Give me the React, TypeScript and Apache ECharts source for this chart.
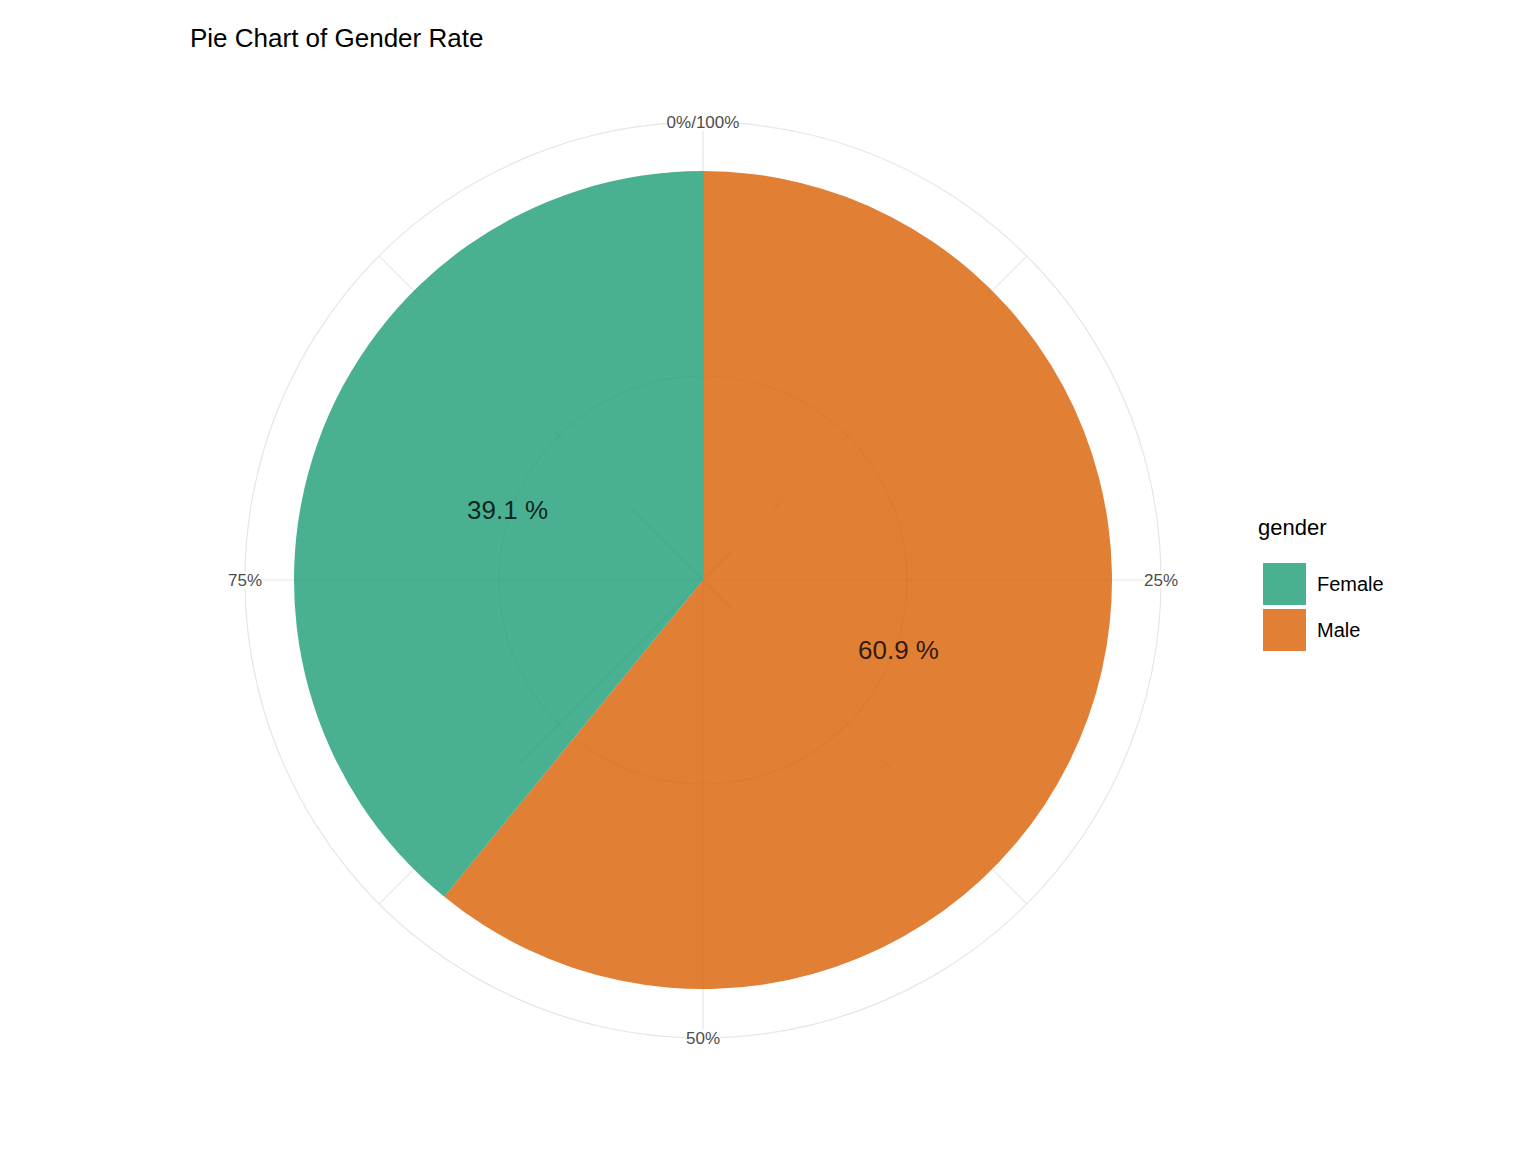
import { useEffect, useRef } from "react";
import * as echarts from "echarts";

const genders = ["Male", "Female"];
const rates = [60.9, 39.1];
const colors = ["#d95f02", "#1b9e77"];
const angleTicks = ["0%/100%", "25%", "50%", "75%"];

const CX = 695;
const CY = 572;
const PIE_R = 409;
const GRID_R = [204, 458];

export default function App() {
  const chartRef = useRef<HTMLDivElement>(null);

  useEffect(() => {
    if (!chartRef.current) return;
    const chart = echarts.init(chartRef.current, null, { renderer: "svg" });

    const grid: any[] = [];
    GRID_R.forEach(r =>
      grid.push({
        type: "circle",
        shape: { cx: CX, cy: CY, r },
        style: { fill: "none", stroke: "#e6e6e6", lineWidth: 1.2 },
        z: 0
      })
    );
    for (let i = 0; i < 8; i++) {
      const a = (i * Math.PI) / 4;
      grid.push({
        type: "line",
        shape: { x1: CX, y1: CY, x2: CX + GRID_R[1] * Math.sin(a), y2: CY - GRID_R[1] * Math.cos(a) },
        style: { stroke: "#e6e6e6", lineWidth: 1.2 },
        z: 0
      });
    }
    angleTicks.forEach((t, i) => {
      const a = (i * Math.PI) / 2;
      grid.push({
        type: "text",
        x: CX + GRID_R[1] * Math.sin(a),
        y: CY - GRID_R[1] * Math.cos(a),
        style: {
          text: t,
          fill: "#4d4d4d",
          font: '17px "Liberation Sans", Arial, sans-serif',
          align: "center",
          verticalAlign: "middle",
          backgroundColor: "#fff"
        },
        z: 1
      });
    });
    grid.push({
      type: "text",
      left: 1250,
      top: 508,
      style: { text: "gender", fill: "#000", font: '22px "Liberation Sans", Arial, sans-serif' }
    });

    chart.setOption({
      animation: false,
      title: {
        text: "Pie Chart of Gender Rate",
        left: 177,
        top: 12,
        textStyle: { fontFamily: "Liberation Sans", fontSize: 26, fontWeight: "normal", color: "#000" }
      },
      legend: {
        orient: "vertical",
        left: 1250,
        top: 550,
        data: ["Female", "Male"],
        icon: "rect",
        itemWidth: 43,
        itemHeight: 42,
        itemGap: 4,
        textStyle: { fontFamily: "Liberation Sans", fontSize: 20, color: "#000", padding: [0, 0, 0, 6] }
      },
      graphic: grid,
      series: [
        {
          type: "pie",
          center: [CX, CY],
          radius: [0, PIE_R],
          startAngle: 90,
          clockwise: true,
          silent: true,
          data: genders.map((g, i) => ({
            name: g,
            value: rates[i],
            itemStyle: { color: colors[i], opacity: 0.8 }
          })),
          label: {
            position: "inner",
            formatter: (p: any) => p.value.toFixed(1) + " %",
            fontFamily: "Liberation Sans",
            fontSize: 26,
            color: "#000"
          },
          labelLine: { show: false },
          itemStyle: { borderWidth: 0 }
        }
      ]
    });

    return () => chart.dispose();
  }, []);

  return <div ref={chartRef} style={{ width: 1520, height: 1136 }} />;
}
